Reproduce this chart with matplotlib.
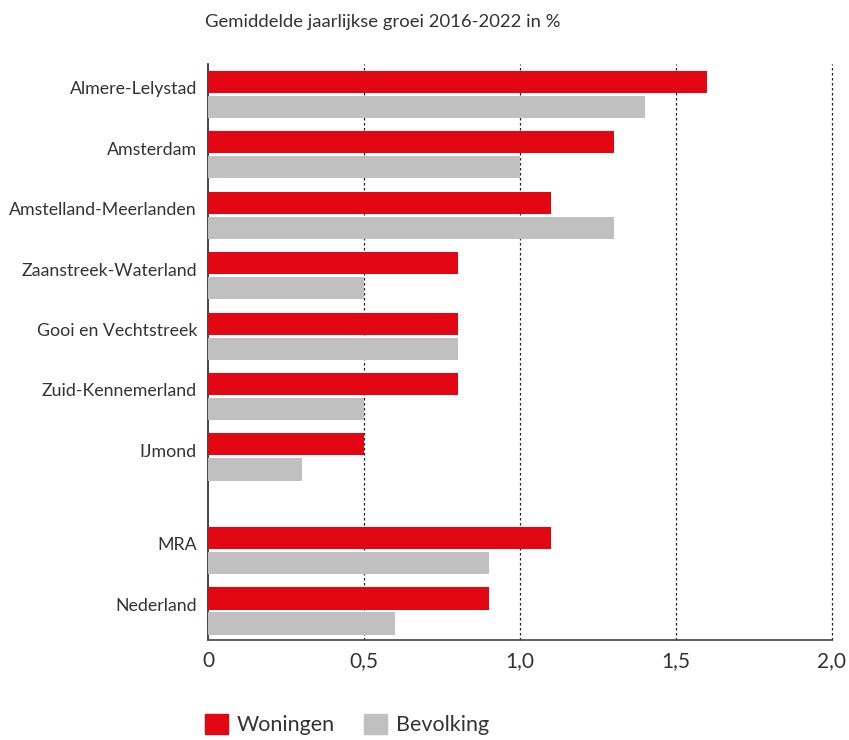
import matplotlib.pyplot as plt
import numpy as np
from matplotlib.patches import Patch

plt.rcParams['font.family'] = ['Lato', 'DejaVu Sans']

regios = ["Almere-Lelystad", "Amsterdam", "Amstelland-Meerlanden",
          "Zaanstreek-Waterland", "Gooi en Vechtstreek", "Zuid-Kennemerland",
          "IJmond", "MRA", "Nederland"]
woningen = [1.6, 1.3, 1.1, 0.8, 0.8, 0.8, 0.5, 1.1, 0.9]
bevolking = [1.4, 1.0, 1.3, 0.5, 0.8, 0.5, 0.3, 0.9, 0.6]
xticks = [0, 0.5, 1.0, 1.5, 2.0]
xticklabels = ["0", "0,5", "1,0", "1,5", "2,0"]

rood = "#E30613"
grijs = "#C0C0C0"
tekst = "#333333"

# posities: extra ruimte tussen regio's en MRA/Nederland
pos = np.array([0, 1, 2, 3, 4, 5, 6, 7.55, 8.55])
h = 0.365
off = 0.207

fig = plt.figure(figsize=(8.49, 7.4), dpi=100)
ax = fig.add_axes([208/849, 1-640/740, 624/849, 576/740])

ax.barh(pos - off, woningen, height=h, color=rood, zorder=3)
ax.barh(pos + off, bevolking, height=h, color=grijs, zorder=3)

ax.set_xlim(0, 2.0)
ax.set_ylim(pos[-1] + 0.48, -0.506)

for x in xticks[1:]:
    ax.axvline(x, color="#222222", linestyle=(0, (2, 2)), linewidth=0.9,
               zorder=1, clip_on=False)

ax.set_xticks(xticks)
ax.set_xticklabels(xticklabels, fontsize=15, color=tekst)
ax.set_yticks(pos - 0.11)
ax.set_yticklabels(regios, fontsize=12.8, color=tekst)
ax.tick_params(axis='both', length=0)
ax.tick_params(axis='y', pad=8)
ax.tick_params(axis='x', pad=8)

for s in ["top", "right"]:
    ax.spines[s].set_visible(False)
ax.spines["left"].set_color("#222222")
ax.spines["left"].set_linewidth(1.2)
ax.spines["bottom"].set_color("#444444")
ax.spines["bottom"].set_linewidth(1.2)

fig.text(205/849, 1-22/740, "Gemiddelde jaarlijkse groei 2016-2022 in %",
         fontsize=13.3, color=tekst, va='center', ha='left')

handles = [Patch(color=rood, label="Woningen"), Patch(color=grijs, label="Bevolking")]
fig.legend(handles=handles, loc='upper left', bbox_to_anchor=(205/849, 1-714/740),
           ncol=2, frameon=False, fontsize=15.5, handlelength=1.05, handleheight=1.05,
           handletextpad=0.4, columnspacing=1.4, labelcolor=tekst,
           borderpad=0, borderaxespad=0)

fig.savefig("out.png", dpi=100)
